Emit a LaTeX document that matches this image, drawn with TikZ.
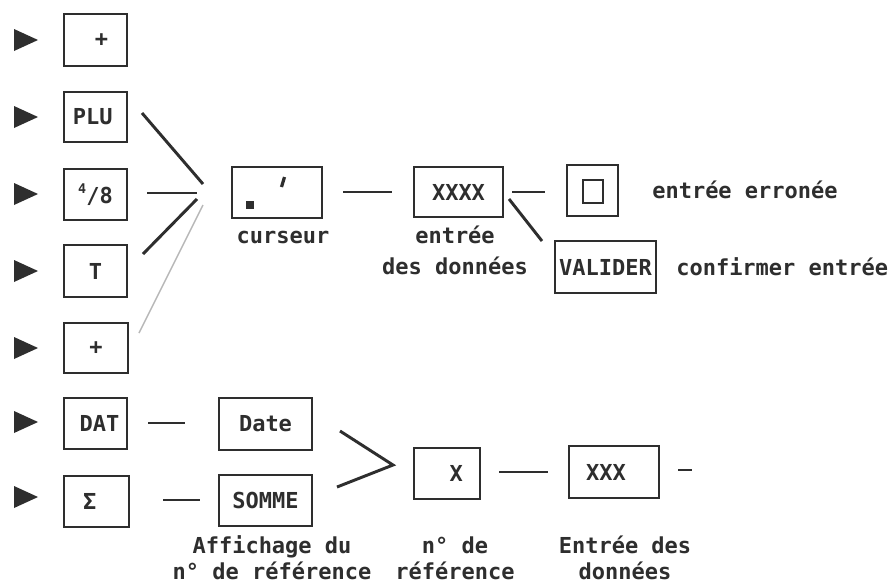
\documentclass[tikz,border=0pt]{standalone}
\usepackage{fontspec}
\newfontfamily\dotfont{DejaVu Sans Mono}
\definecolor{ink}{HTML}{2E2E2E}
\definecolor{faint}{HTML}{B8B8B8}
\begin{document}
\begin{tikzpicture}[x=0.75pt,y=-0.75pt,
  lbl/.style={font=\dotfont\bfseries\fontsize{16.5}{20}\selectfont, text=ink, inner sep=0pt},
  bx/.style 2 args={draw=ink, line width=2pt, inner sep=0pt, minimum width={#1*0.75pt}, minimum height={#2*0.75pt}, lbl},
  conn/.style={draw=ink, line width=2.2pt},
  thinconn/.style={draw=faint, line width=1.1pt},
  tri/.style={fill=ink}]
\fill[white] (0,0) rectangle (891,586);
\useasboundingbox (0,0) rectangle (891,586);

% pointer triangles
\foreach \yy in {40,117,194,271,348,422,497}{
  \fill[tri] (14,\yy-11) -- (38,\yy) -- (14,\yy+11) -- cycle;
}

% left column boxes
\node[bx={63}{52}] (b1) at (95.5,40) {\hspace*{9pt}+};
\node[bx={63}{50}] (plu) at (95.5,117) {PLU\hspace*{4pt}};
\node[bx={63}{51}] (frac) at (95.5,194.5) {\raisebox{0.45em}{\fontsize{10}{10}\selectfont 4}/8};
\node[bx={63}{52}] (tk) at (95.5,271) {T};
\node[bx={64}{50}] (b5) at (96,348) {+};
\node[bx={63}{51}] (dat) at (95.5,423.5) {\hspace*{6pt}DAT};
\node[bx={65}{51}] (sig) at (96.5,501.5) {Σ\hspace*{10pt}};

% cursor row
\node[bx={90}{51}] (cur) at (277,192.5) {};
\draw[ink, line width=2.4pt] (284.5,177) -- (281.5,187);
\fill[ink] (246,201) rectangle (254,209);
\node[lbl, anchor=base] (curl) at (283,243) {curseur};
\node[bx={89}{50}] (xxxx) at (458.5,192) {XXXX};
\node[lbl, align=center, anchor=base] (entl) at (455,274) {entrée\\[3pt]des données};
\node[bx={51}{51}] (err) at (592.5,190.5) {};
\draw[ink, line width=2pt] (583,180) rectangle (603,203);
\node[lbl, anchor=west] (errl) at (652,190) {entrée erronée};
\node[bx={101}{52}] (val) at (605.5,267) {VALIDER};
\node[lbl, anchor=west] (vall) at (676,267) {confirmer entrée};

% connectors to cursor
\coordinate (c1a) at (142,113); \coordinate (c1b) at (203,184);
\coordinate (c2a) at (147,193); \coordinate (c2b) at (197,193);
\coordinate (c3a) at (143,254); \coordinate (c3b) at (197,199);
\coordinate (c4a) at (139,333); \coordinate (c4b) at (203,205);
\draw[conn] (c1a) -- (c1b);
\draw[conn] (c2a) -- (c2b);
\draw[conn] (c3a) -- (c3b);
\draw[thinconn] (c4a) -- (c4b);

\coordinate (d1a) at (343,192); \coordinate (d1b) at (392,192);
\draw[conn] (d1a) -- (d1b);
\coordinate (d2a) at (512,192); \coordinate (d2b) at (545,192);
\draw[conn] (d2a) -- (d2b);
\coordinate (d3a) at (509,199); \coordinate (d3b) at (542,241);
\draw[conn] (d3a) -- (d3b);

% bottom rows
\node[bx={93}{52}] (date) at (265.5,424) {Date};
\node[bx={93}{51}] (somme) at (265.5,500.5) {SOMME};
\node[bx={66}{51}] (xb) at (447,473.5) {\hspace*{14pt}X};
\node[bx={90}{52}] (xxx) at (614,472) {XXX\hspace*{12pt}};

\coordinate (e1a) at (148,423); \coordinate (e1b) at (185,423);
\draw[conn] (e1a) -- (e1b);
\coordinate (e2a) at (163,500); \coordinate (e2b) at (200,500);
\draw[conn] (e2a) -- (e2b);
\coordinate (ch1) at (340,431); \coordinate (ch2) at (393,465); \coordinate (ch3) at (337,487);
\draw[conn, line join=miter] (ch1) -- (ch2) -- (ch3);
\coordinate (e3a) at (499,472); \coordinate (e3b) at (548,472);
\draw[conn] (e3a) -- (e3b);
\coordinate (e4a) at (678,470); \coordinate (e4b) at (692,470);
\draw[conn] (e4a) -- (e4b);

\node[lbl, align=center, anchor=base] (affl) at (272,579) {Affichage du\\[-1pt]n° de référence};
\node[lbl, align=center, anchor=base] (refl) at (455,579) {n° de\\[-1pt]référence};
\node[lbl, align=center, anchor=base] (entl2) at (625,579) {Entrée des\\[-1pt]données};
\end{tikzpicture}
\end{document}
